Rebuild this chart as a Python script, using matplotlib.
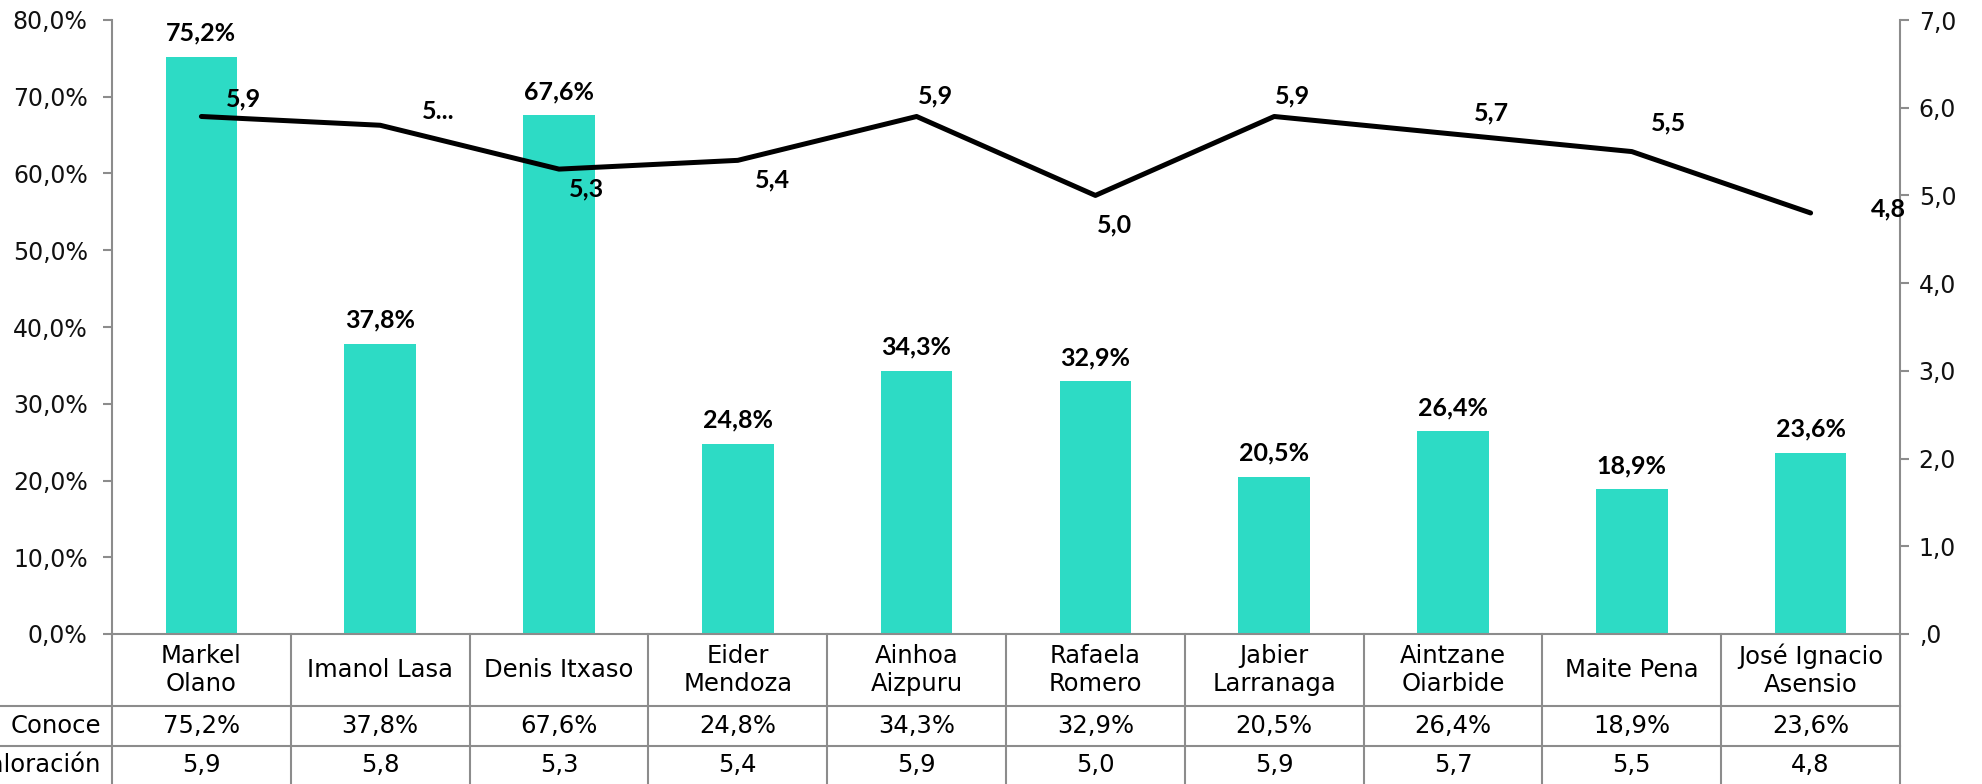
import matplotlib
matplotlib.use("Agg")
import matplotlib.pyplot as plt
import matplotlib.transforms as mtransforms
from matplotlib.lines import Line2D

plt.rcParams['font.family'] = ['DejaVu Sans']
BOLD_FAMILY = ['Lato', 'DejaVu Sans']

# ---------------- data ----------------
candidates = ["Markel\nOlano", "Imanol Lasa", "Denis Itxaso", "Eider\nMendoza", "Ainhoa\nAizpuru",
              "Rafaela\nRomero", "Jabier\nLarranaga", "Aintzane\nOiarbide", "Maite Pena",
              "José Ignacio\nAsensio"]
conoce = [75.2, 37.8, 67.6, 24.8, 34.3, 32.9, 20.5, 26.4, 18.9, 23.6]
valoracion = [5.9, 5.8, 5.3, 5.4, 5.9, 5.0, 5.9, 5.7, 5.5, 4.8]
row_labels = ["Conoce", "Valoración"]
left_ticks = [0, 10, 20, 30, 40, 50, 60, 70, 80]
right_ticks = [0, 1, 2, 3, 4, 5, 6, 7]
# line data label shown truncated in the original for one point
line_label_override = {1: "5..."}
# offsets (pixels) of the line data labels relative to their points
line_label_offsets = [(42, 18), (58, 14), (27, -20), (35, -20), (19, 21),
                      (19, -29), (18, 21), (38, 21), (37, 29), (78, 4)]

bar_color = "#2DDBC5"
grid_gray = "#8C8C8C"

def fmt_pct(v):
    return f"{v:.1f}%".replace(".", ",")

def fmt_val(v):
    s = f"{v:.1f}".replace(".", ",")
    return s[1:] if s.startswith("0") else s

W, H = 1982, 784
fig = plt.figure(figsize=(W / 100, H / 100), dpi=100)
left_px, right_px, top_px, bottom_px = 112, 1900, 20, 634
ax = fig.add_axes([left_px / W, 1 - bottom_px / H, (right_px - left_px) / W, (bottom_px - top_px) / H])
ax2 = ax.twinx()

x = list(range(len(candidates)))
ax.bar(x, conoce, width=0.4, color=bar_color, zorder=2)
ax.set_xlim(-0.5, len(candidates) - 0.5)
ax.set_ylim(0, 80)
ax.set_yticks(left_ticks)
ax.set_yticklabels([fmt_pct(v) for v in left_ticks])
ax.set_xticks([])

for xi, v in zip(x, conoce):
    ax.annotate(fmt_pct(v), (xi, v), xytext=(0, 12), textcoords="offset pixels",
                ha="center", va="bottom", fontsize=18, fontweight="bold", color="black",
                family=BOLD_FAMILY)

ax2.plot(x, valoracion, color="black", lw=3.6, solid_capstyle="round",
         solid_joinstyle="round", zorder=3)
ax2.set_ylim(0, 7)
ax2.set_yticks(right_ticks)
ax2.set_yticklabels([fmt_val(v) for v in right_ticks])

for i, (xi, v) in enumerate(zip(x, valoracion)):
    txt = line_label_override.get(i, fmt_val(v))
    dx, dy = line_label_offsets[i]
    ax2.annotate(txt, (xi, v), xytext=(dx, dy), textcoords="offset pixels",
                 ha="center", va="center", fontsize=18, fontweight="bold", color="black",
                 family=BOLD_FAMILY)

for a in (ax, ax2):
    a.spines["top"].set_visible(False)
    for s in a.spines.values():
        s.set_color(grid_gray)
        s.set_linewidth(1.5)
    a.tick_params(axis="y", colors=grid_gray, length=6.5, width=1.5, labelsize=17,
                  labelcolor="#111111")
ax.spines["right"].set_visible(False)
ax2.spines["left"].set_visible(False)
ax2.spines["bottom"].set_visible(False)
ax.tick_params(axis="y", pad=11)
ax2.tick_params(axis="y", pad=7)
ax.tick_params(axis="x", length=0)

# ---------------- data table below axis ----------------
plot_h = bottom_px - top_px
plot_w = right_px - left_px
def ay(py):
    return (bottom_px - py) / plot_h

trans = mtransforms.blended_transform_factory(ax.transData, ax.transAxes)
tbl_kw = dict(color=grid_gray, lw=1.5, clip_on=False)
y_bottom = ay(790)
for k in range(len(candidates) + 1):
    xb = k - 0.5
    ax.add_line(Line2D([xb, xb], [0, y_bottom], transform=trans, **tbl_kw))
for py in (706, 746):
    ax.add_line(Line2D([(0 - left_px) / plot_w - 0.01, 1], [ay(py), ay(py)],
                       transform=ax.transAxes, **tbl_kw))

for xi, name, c, v in zip(x, candidates, conoce, valoracion):
    ax.text(xi, ay(670), name, transform=trans, ha="center", va="center",
            fontsize=17.5, linespacing=1.2, clip_on=False)
    ax.text(xi, ay(726), fmt_pct(c), transform=trans, ha="center", va="center",
            fontsize=17.5, clip_on=False)
    ax.text(xi, ay(765), fmt_val(v), transform=trans, ha="center", va="center",
            fontsize=17.5, clip_on=False)

label_x = (101 - left_px) / plot_w
for lbl, py in zip(row_labels, (726, 765)):
    ax.text(label_x, ay(py), lbl, transform=ax.transAxes, ha="right", va="center",
            fontsize=17.5, clip_on=False)

fig.savefig("out.png", dpi=100)
